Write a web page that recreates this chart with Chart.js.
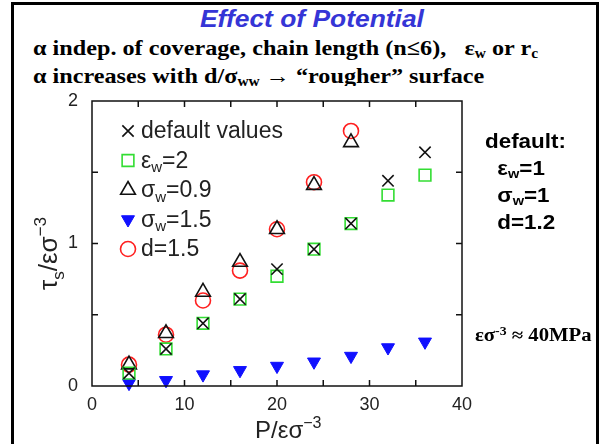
<!DOCTYPE html>
<html>
<head>
<meta charset="utf-8">
<script src="https://cdn.jsdelivr.net/npm/chart.js@4.4.1/dist/chart.umd.min.js"></script>
<style>
  html, body { margin:0; padding:0; background:#fff; }
  #wrap { position:relative; width:602px; height:444px; overflow:hidden; }
  #frame { position:absolute; left:11px; top:2px; width:582px; height:470px; border:3px solid #000; }
  .t { position:absolute; white-space:nowrap; transform-origin:0 0; }
  #title { left:200px; top:5px; font:italic bold 24px "Liberation Sans", Arial, sans-serif; color:#3535d6; transform:scaleX(1.1); }
  .serif { font:bold 22px "Liberation Serif", "Times New Roman", serif; color:#000; line-height:24px; transform:scaleX(1.1); }
  .serif sub { font-size:14px; vertical-align:-3px; line-height:0; }
  #l1 { left:33px; top:36px; }
  #l2 { left:33px; top:64px; }
  #side { left:485px; top:128px; font:bold 20px "Liberation Sans", Arial, sans-serif; line-height:27px; transform:scaleX(1.12); }
  #side sub { font-size:13px; vertical-align:-3px; line-height:0; }
  #side .in { padding-left:11px; }
  #mpa { left:475px; top:325px; font:bold 18px "Liberation Serif", serif; transform:scaleX(1.15); }
  #mpa sup { font-size:12px; vertical-align:6px; line-height:0; }
  canvas { position:absolute; left:0; top:0; }
</style>
</head>
<body>
<div id="wrap">
  <div id="frame"></div>
  <div class="t" id="title">Effect of Potential</div>
  <div class="t serif" id="l1">&alpha; indep. of coverage, chain length (n&le;6),&nbsp;&nbsp; &epsilon;<sub>w</sub> or r<sub>c</sub></div>
  <div class="t serif" id="l2">&alpha; increases with d/&sigma;<sub>ww</sub> &rarr; &ldquo;rougher&rdquo; surface</div>
  <canvas id="c" width="602" height="444"></canvas>
  <div class="t" id="side">default:<br><span class="in">&epsilon;<sub>w</sub>=1</span><br><span class="in">&sigma;<sub>w</sub>=1</span><br><span class="in">d=1.2</span></div>
  <div class="t" id="mpa">&epsilon;&sigma;<sup>-3</sup> &asymp; 40MPa</div>
</div>
<script>
var xValues = [4, 8, 12, 16, 20, 24, 28, 32, 36];
var defaultVals = [0.09, 0.26, 0.44, 0.61, 0.82, 0.96, 1.14, 1.44, 1.64];
var epsW2Vals = [0.09, 0.26, 0.44, 0.61, 0.77, 0.96, 1.14, 1.34, 1.48];
var sigW09Vals = [0.15, 0.37, 0.66, 0.87, 1.10, 1.41, 1.71];
var sigW15Vals = [0.02, 0.04, 0.08, 0.11, 0.14, 0.17, 0.21, 0.27, 0.31];
var d15Vals = [0.15, 0.36, 0.60, 0.81, 1.10, 1.43, 1.79];
var xTicks = [0, 10, 20, 30, 40];
var yTicks = [0, 1, 2];

var SANS = '"Liberation Sans", Arial, sans-serif';

function pts(ys) {
  return ys.map(function(y, i){ return {x: xValues[i], y: y}; });
}

// legend rows: marker + label pieces (text, subscript)
var legendRows = [
  {ds: 0, parts: [['default values', 0]]},
  {ds: 1, parts: [['\u03b5', 0], ['w', 1], ['=2', 0]]},
  {ds: 2, parts: [['\u03c3', 0], ['w', 1], ['=0.9', 0]]},
  {ds: 3, parts: [['\u03c3', 0], ['w', 1], ['=1.5', 0]]},
  {ds: 4, parts: [['d=1.5', 0]]}
];

// draw text made of pieces: [text, 0=normal 1=sub 2=sup]
function drawParts(ctx, x, y, parts, size) {
  parts.forEach(function(p){
    var s = p[1] ? Math.round(size * 0.65) : size;
    var dy = p[1] == 1 ? size * 0.28 : (p[1] == 2 ? -size * 0.42 : 0);
    ctx.font = s + 'px ' + SANS;
    ctx.fillText(p[0], x, y + dy);
    x += ctx.measureText(p[0]).width;
  });
  return x;
}

var framePlugin = {
  id: 'frame',
  beforeDraw: function(chart){
    var ctx = chart.ctx;
    ctx.save();
    ctx.fillStyle = '#fff';
    ctx.fillRect(14, 86, 582, 358);
    ctx.restore();
  },
  afterDraw: function(chart){
    var ctx = chart.ctx, a = chart.chartArea;
    var xs = chart.scales.x, ys = chart.scales.y;
    ctx.save();
    ctx.strokeStyle = '#111';
    ctx.lineWidth = 1.5;
    ctx.strokeRect(a.left, a.top, a.right - a.left, a.bottom - a.top);
    ctx.beginPath();
    for (var v = 5; v < 40; v += 5) {
      var px = xs.getPixelForValue(v);
      ctx.moveTo(px, a.bottom); ctx.lineTo(px, a.bottom - 6);
      ctx.moveTo(px, a.top); ctx.lineTo(px, a.top + 6);
    }
    for (var w = 0.5; w < 2; w += 0.5) {
      var py = ys.getPixelForValue(w);
      ctx.moveTo(a.left, py); ctx.lineTo(a.left + 6, py);
      ctx.moveTo(a.right, py); ctx.lineTo(a.right - 6, py);
    }
    ctx.stroke();

    // axis titles
    ctx.fillStyle = '#222';
    ctx.textBaseline = 'alphabetic';
    drawParts(ctx, 255, 438, [['P/\u03b5\u03c3', 0], ['\u22123', 2]], 24);
    ctx.translate(57, 290);
    ctx.rotate(-Math.PI / 2);
    drawParts(ctx, 0, 0, [['\u03c4', 0], ['s', 1], ['/\u03b5\u03c3', 0], ['\u22123', 2]], 26);
    ctx.restore();

    // legend
    ctx.save();
    var y0 = 131, step = 29.5;
    legendRows.forEach(function(r, i){
      var ds = chart.data.datasets[r.ds];
      var cy = y0 + i * step;
      ctx.lineWidth = ds.pointBorderWidth;
      ctx.strokeStyle = ds.borderColor;
      ctx.fillStyle = ds.backgroundColor;
      Chart.helpers.drawPoint(ctx, {
        pointStyle: ds.pointStyle,
        rotation: ds.pointRotation || 0,
        radius: ds.legendRadius,
        borderWidth: ds.pointBorderWidth
      }, 128, cy);
      ctx.fillStyle = '#222';
      ctx.textBaseline = 'middle';
      drawParts(ctx, 141, cy + 1, r.parts, 23);
    });
    ctx.restore();
  }
};

new Chart(document.getElementById('c'), {
  type: 'scatter',
  data: {
    datasets: [
      {label: 'default values', data: pts(defaultVals), pointStyle: 'crossRot', pointRadius: 8, legendRadius: 8,
       borderColor: '#111', backgroundColor: '#111', pointBorderWidth: 1.6},
      {label: 'eps_w=2', data: pts(epsW2Vals), pointStyle: 'rect', pointRadius: 8.3, legendRadius: 8.3,
       borderColor: '#33dd33', backgroundColor: 'rgba(0,0,0,0)', pointBorderWidth: 1.6},
      {label: 'sigma_w=0.9', data: pts(sigW09Vals), pointStyle: 'triangle', pointRadius: 8.5, legendRadius: 8.5,
       borderColor: '#111', backgroundColor: 'rgba(0,0,0,0)', pointBorderWidth: 1.6},
      {label: 'sigma_w=1.5', data: pts(sigW15Vals), pointStyle: 'triangle', pointRotation: 180, rotation: 180,
       pointRadius: 7.5, legendRadius: 7.5, borderColor: '#1010ff', backgroundColor: '#1010ff', pointBorderWidth: 1},
      {label: 'd=1.5', data: pts(d15Vals), pointStyle: 'circle', pointRadius: 7.5, legendRadius: 7.5,
       borderColor: '#ff2020', backgroundColor: 'rgba(0,0,0,0)', pointBorderWidth: 1.6}
    ]
  },
  options: {
    responsive: false,
    animation: false,
    clip: false,
    layout: {padding: {left: 0, right: 140, top: 101, bottom: 0}},
    plugins: {legend: {display: false}, tooltip: {enabled: false}},
    scales: {
      x: {
        type: 'linear', min: 0, max: 40,
        afterBuildTicks: function(s){ s.ticks = xTicks.map(function(v){ return {value: v}; }); },
        afterFit: function(s){ s.height = 58; },
        grid: {display: false}, border: {display: false},
        ticks: {color: '#222', padding: 0, font: {family: SANS, size: 18}}
      },
      y: {
        type: 'linear', min: 0, max: 2,
        afterBuildTicks: function(s){ s.ticks = yTicks.map(function(v){ return {value: v}; }); },
        afterFit: function(s){ s.width = 92; },
        grid: {display: false}, border: {display: false},
        ticks: {color: '#222', padding: 6, font: {family: SANS, size: 18}}
      }
    }
  },
  plugins: [framePlugin]
});
</script>
</body>
</html>
